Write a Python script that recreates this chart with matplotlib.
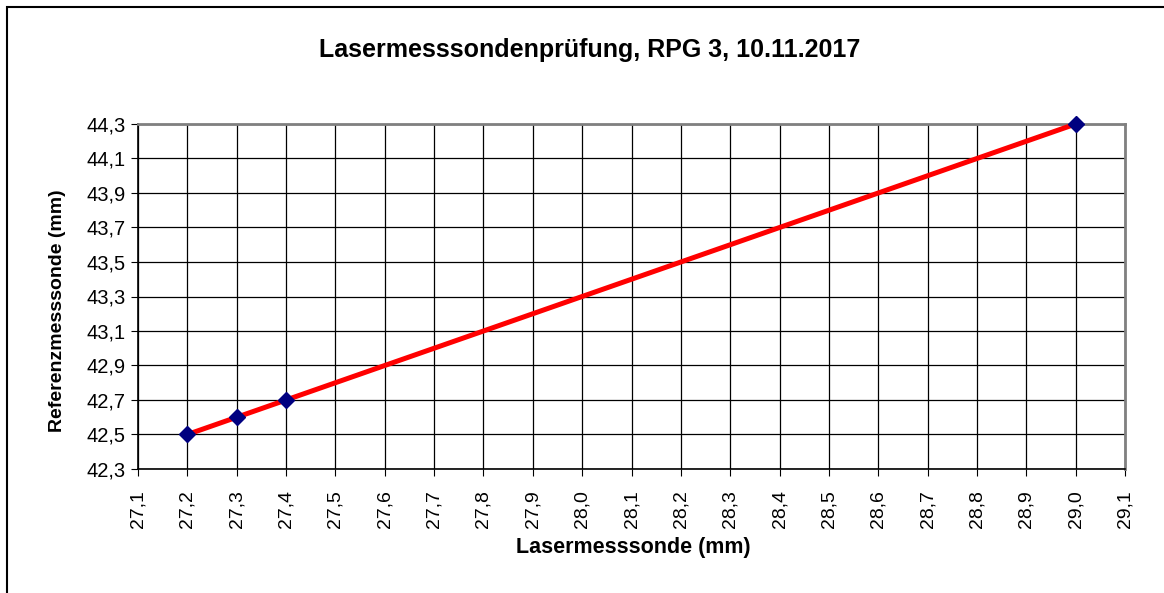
import numpy as np
import matplotlib.pyplot as plt
from matplotlib.patches import Rectangle
from matplotlib.ticker import FuncFormatter

plt.rcParams['font.family'] = ['Liberation Sans', 'DejaVu Sans']

### Data
laser = [27.2, 27.3, 27.4, 29.0]      ## Lasermesssonde (mm)
referenz = [42.5, 42.6, 42.7, 44.3]   ## Referenzmesssonde (mm)

x_ticks = np.round(np.arange(27.1, 29.15, 0.1), 1)
y_ticks = np.round(np.arange(42.3, 44.35, 0.2), 1)

fig = plt.figure(figsize=(11.64, 5.93), dpi=100)
ax = fig.add_axes([138/1164, 1 - 469/593, (1125-138)/1164, (469-124)/593])

ax.plot(laser, referenz, color="red", linewidth=3.6, zorder=3)
ax.plot(laser, referenz, linestyle="none", marker="D", markersize=8,
        color="#000080", zorder=4, clip_on=False)

ax.set_xlim(27.1, 29.1)
ax.set_ylim(42.3, 44.3)
ax.set_xticks(x_ticks)
ax.set_yticks(y_ticks)
comma = FuncFormatter(lambda v, p: f"{v:.1f}".replace(".", ","))
ax.xaxis.set_major_formatter(comma)
ax.yaxis.set_major_formatter(comma)
ax.tick_params(axis="x", labelrotation=90, labelsize=14, direction="out", length=5, pad=10)
ax.tick_params(axis="y", labelsize=14.5, direction="out", length=5, pad=4)

ax.grid(True, color="black", linewidth=0.9)
ax.set_axisbelow(True)
for s in ["top", "right"]:
    ax.spines[s].set_color("#808080")
    ax.spines[s].set_linewidth(2)
for s in ["left", "bottom"]:
    ax.spines[s].set_color("black")
    ax.spines[s].set_linewidth(1.2)

fig.text(590/1164, 1 - 50/593, "Lasermesssondenprüfung, RPG 3, 10.11.2017",
         ha="center", va="center", fontsize=18, fontweight="bold")
fig.text(633/1164, 1 - 548/593, "Lasermesssonde (mm)",
         ha="center", va="center", fontsize=15.5, fontweight="bold")
fig.text(57/1164, 1 - 311/593, "Referenzmesssonde (mm)", rotation=90,
         ha="center", va="center", fontsize=14, fontweight="bold")

## outer chart border (runs off the right and bottom edges)
fig.patches.append(Rectangle((7/1164, -0.1), 1.2, 1 - 7/593 + 0.1,
                             transform=fig.transFigure, fill=False,
                             edgecolor="black", linewidth=1.5))

plt.savefig("out.png", dpi=100)
